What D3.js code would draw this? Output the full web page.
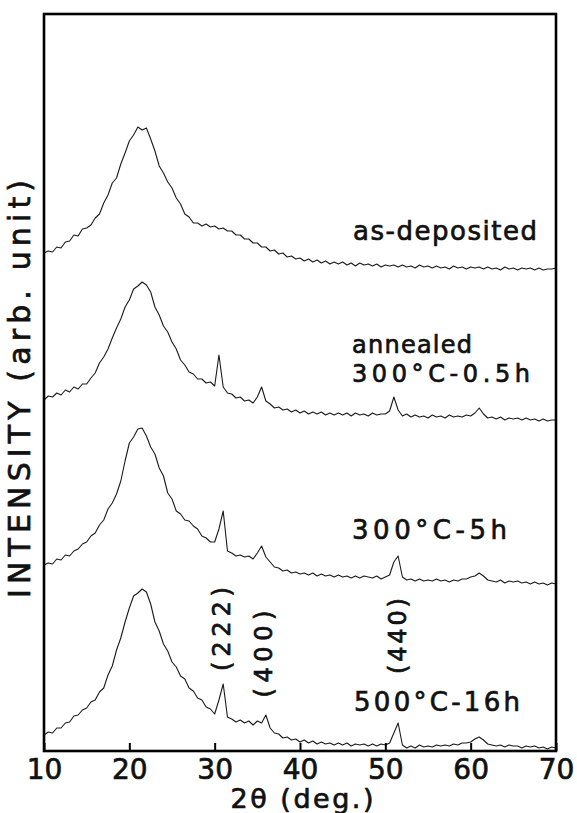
<!DOCTYPE html>
<html>
<head>
<meta charset="utf-8">
<script src="https://cdn.jsdelivr.net/npm/d3@7"></script>
<style>
  html, body { margin: 0; padding: 0; background: #fff; }
  svg { display: block; }
  text { font-family: "DejaVu Sans", sans-serif; fill: #111; stroke: #111; stroke-width: 0.7px; }
</style>
</head>
<body>
<svg id="chart" width="577" height="813"></svg>
<script>
// 2θ sampling grid (deg.), 0.5° steps from 10 to 70
const twoTheta = d3.range(10, 70.25, 0.5);

// Intensity (arb. unit, already offset/stacked as in the figure)
const asDeposited = [498,500,499,504,503,509,510,516,515,522,
  523,526,533,537,548,556,568,573,587,598,
  610,616,624,621,623,612,600,585,578,569,
  563,553,547,537,534,528,528,525,527,524,
  525,522,523,520,520,516,516,512,512,508,
  508,504,504,500,501,497,498,494,495,492,
  493,490,492,489,491,488,490,487,489,487,
  489,486,488,485,488,486,487,485,487,484,
  486,485,486,484,486,484,485,483,486,484,
  485,483,485,483,484,482,485,483,484,482,
  484,483,484,482,484,482,483,481,484,482,
  483,481,483,482,483,481,483,481,482,482,
  483];
const annealed05h = [351,355,354,358,356,361,359,364,362,367,
  367,373,378,388,394,402,413,423,432,444,
  451,462,465,469,466,459,444,436,425,419,
  409,402,391,386,379,377,372,372,368,369,
  365,396,364,358,357,353,354,350,351,348,
  354,364,350,347,343,344,341,342,339,341,
  338,340,337,339,337,339,336,338,336,338,
  336,338,335,338,336,337,335,338,336,337,
  337,340,354,341,335,337,334,336,334,335,
  333,336,334,335,333,336,334,335,334,336,
  335,338,343,337,333,334,332,334,331,333,
  332,333,331,333,331,332,330,332,330,331,
  331];
const annealed5h = [186,188,187,192,191,196,195,200,202,207,
  209,215,218,226,231,242,248,257,270,290,
  308,314,322,323,315,304,297,283,275,258,
  252,240,237,231,230,225,222,215,213,209,
  209,222,240,200,198,195,196,194,195,192,
  198,205,194,189,184,183,180,181,178,179,
  177,178,176,178,175,177,175,176,174,176,
  174,175,173,175,173,175,174,173,175,172,
  174,176,189,195,174,171,172,170,172,170,
  171,170,172,170,171,169,171,170,172,172,
  174,175,178,175,171,170,169,171,168,170,
  169,170,168,169,167,169,167,168,166,168,
  167];
const annealed16h = [16,19,18,23,23,28,29,35,36,41,
  43,49,51,59,63,76,85,101,113,129,
  143,155,158,162,159,147,129,120,107,100,
  89,84,75,72,63,60,53,51,44,42,
  37,51,67,34,32,29,31,28,30,26,
  30,28,36,23,18,17,13,14,11,12,
  9,11,8,10,7,9,7,8,6,8,
  6,8,5,7,6,7,5,7,5,7,
  6,8,18,28,6,3,5,3,6,4,
  5,4,6,5,6,5,7,6,8,8,
  9,12,14,11,7,6,5,6,4,6,
  5,5,3,5,4,5,3,4,2,4,
  3];

const xTicks = [10, 20, 30, 40, 50, 60, 70];
const seriesLabels = [
  {lines: ["as-deposited"], x: 353, y: 240, len: [184], size: 26, gap: 0},
  {lines: ["annealed", "300°C-0.5h"], x: 352, y: 353, len: [120, 178], size: 24, gap: 29},
  {lines: ["300°C-5h"], x: 352, y: 539, len: [155], size: 26, gap: 0},
  {lines: ["500°C-16h"], x: 354, y: 711, len: [166], size: 26, gap: 0}
];
const peakLabels = ["(222)", "(400)", "(440)"];
const peakLabelPos = [[222, 629, 84], [264, 654, 87], [398, 636, 76]];

const svg = d3.select("#chart");
const L = 44, R = 556, T = 14, B = 751;

const x = d3.scaleLinear().domain([10, 70]).range([L, R]);
const y = d3.scaleLinear().domain([0, 737]).range([B, T]);

const line = d3.line()
  .x((d, i) => x(twoTheta[i]))
  .y(d => y(d));

[asDeposited, annealed05h, annealed5h, annealed16h].forEach(s => {
  svg.append("path")
    .attr("d", line(s))
    .attr("fill", "none")
    .attr("stroke", "#1a1a1a")
    .attr("stroke-width", 1.1)
    .attr("stroke-linejoin", "round");
});

// frame
svg.append("rect")
  .attr("x", L).attr("y", T)
  .attr("width", R - L).attr("height", B - T)
  .attr("fill", "none")
  .attr("stroke", "#000")
  .attr("stroke-width", 2.6);

// bottom axis with inward ticks
const ax = svg.append("g")
  .attr("transform", `translate(0,${B})`)
  .call(d3.axisBottom(x).tickValues(xTicks).tickSize(-8).tickPadding(8).tickFormat(d3.format("d")));
ax.select(".domain").remove();
ax.selectAll(".tick line").attr("stroke", "#000").attr("stroke-width", 2);
ax.selectAll(".tick text")
  .attr("font-size", 28)
  .attr("font-family", "DejaVu Sans, sans-serif")
  .attr("fill", "#111");

// axis titles
svg.append("text")
  .attr("x", 302).attr("y", 808)
  .attr("text-anchor", "middle")
  .attr("font-size", 27)
  .attr("textLength", 143)
  .attr("lengthAdjust", "spacing")
  .text("2θ (deg.)");

svg.append("text")
  .attr("transform", "translate(30,389) rotate(-90)")
  .attr("text-anchor", "middle")
  .attr("font-size", 30)
  .attr("textLength", 418)
  .attr("lengthAdjust", "spacing")
  .text("INTENSITY (arb. unit)");

// series labels
seriesLabels.forEach(s => {
  s.lines.forEach((t, k) => {
    svg.append("text")
      .attr("x", s.x).attr("y", s.y + k * s.gap)
      .attr("font-size", s.size)
      .attr("textLength", s.len[k])
      .attr("lengthAdjust", "spacing")
      .text(t);
  });
});

// peak (hkl) labels
peakLabels.forEach((t, i) => {
  const [px, py, len] = peakLabelPos[i];
  svg.append("text")
    .attr("transform", `translate(${px},${py}) rotate(-90)`)
    .attr("text-anchor", "middle")
    .attr("dominant-baseline", "central")
    .attr("font-size", 24)
    .attr("textLength", len)
    .attr("lengthAdjust", "spacing")
    .text(t);
});
</script>
</body>
</html>
